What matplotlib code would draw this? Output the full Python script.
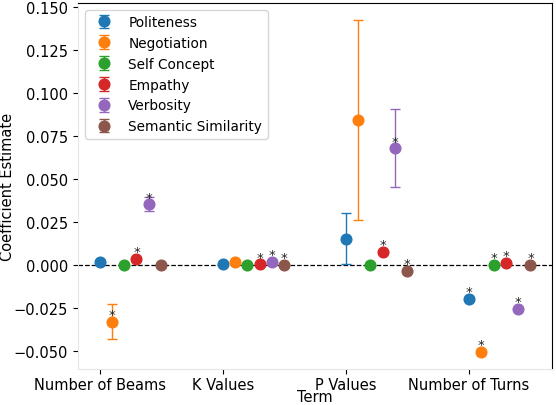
import matplotlib
matplotlib.use("Agg")
import matplotlib.pyplot as plt
import numpy as np

terms = ["Number of Beams", "K Values", "P Values", "Number of Turns"]
series = ["Politeness", "Negotiation", "Self Concept", "Empathy", "Verbosity", "Semantic Similarity"]
colors = ["#1f77b4", "#ff7f0e", "#2ca02c", "#d62728", "#9467bd", "#8c564b"]

# coefficient estimates per series, per term
politeness = [0.0019, 0.0005, 0.0153, -0.0198]
negotiation = [-0.0330, 0.0017, 0.0845, -0.0505]
self_concept = [0.0000, 0.0000, 0.0000, 0.0000]
empathy = [0.0035, 0.0005, 0.0076, 0.0012]
verbosity = [0.0353, 0.0017, 0.0680, -0.0256]
semantic_similarity = [0.0000, 0.0000, -0.0033, 0.0000]

# error half-widths
politeness_err = [0.0012, 0.0004, 0.0147, 0.0004]
negotiation_err = [0.0102, 0.0004, 0.0583, 0.0004]
self_concept_err = [0.0003, 0.0002, 0.0003, 0.0003]
empathy_err = [0.0010, 0.0003, 0.0008, 0.0003]
verbosity_err = [0.0040, 0.0004, 0.0225, 0.0008]
semantic_similarity_err = [0.0004, 0.0002, 0.0004, 0.0003]

# significance flags
politeness_sig = [False, False, False, True]
negotiation_sig = [True, False, False, True]
self_concept_sig = [False, False, False, True]
empathy_sig = [True, True, True, True]
verbosity_sig = [True, True, True, True]
semantic_similarity_sig = [False, True, True, True]

values = [politeness, negotiation, self_concept, empathy, verbosity, semantic_similarity]
errors = [politeness_err, negotiation_err, self_concept_err, empathy_err, verbosity_err, semantic_similarity_err]
sigs = [politeness_sig, negotiation_sig, self_concept_sig, empathy_sig, verbosity_sig, semantic_similarity_sig]

FS = 10.5
plt.rcParams["font.family"] = "DejaVu Sans"
plt.rcParams["font.size"] = FS

fig = plt.figure(figsize=(5.56, 4.06), dpi=100)
ax = fig.add_axes([78/556, 36/406, (552-78)/556, (370-4)/406])

ax.axhline(0, color="black", linestyle="--", linewidth=0.9, zorder=1)

base = np.arange(len(terms))
for j, name in enumerate(series):
    x = base + j * 0.1
    ax.errorbar(x, values[j], yerr=errors[j], fmt="o", color=colors[j],
                markersize=7.7, capsize=3.5, elinewidth=1.0, capthick=1.0,
                label=name, zorder=3)
    for xi, yi, s in zip(x, values[j], sigs[j]):
        if s:
            ax.text(xi, yi + 0.0003, "*", ha="center", va="bottom",
                    fontsize=9.5, color="#222222", zorder=4)

ax.set_xticks(base + 0.0)
ax.set_xticklabels(terms)
ax.tick_params(axis="x", pad=2.0)
ax.set_xlabel("Term")
ax.set_ylabel("Coefficient Estimate")
ax.xaxis.set_label_coords((315 - 78) / 474, (370 - 405.5) / 366)
ax.xaxis.label.set_verticalalignment("bottom")
ax.yaxis.set_label_coords((15 - 78) / 474, 0.5)
ax.set_yticks([-0.05, -0.025, 0.0, 0.025, 0.05, 0.075, 0.1, 0.125, 0.15])

ax.spines["left"].set_color("#e6e6e6")
ax.spines["bottom"].set_color("#e6e6e6")
ax.legend(loc="upper left", fontsize=9.8)

fig.savefig("out.png", dpi=100)
